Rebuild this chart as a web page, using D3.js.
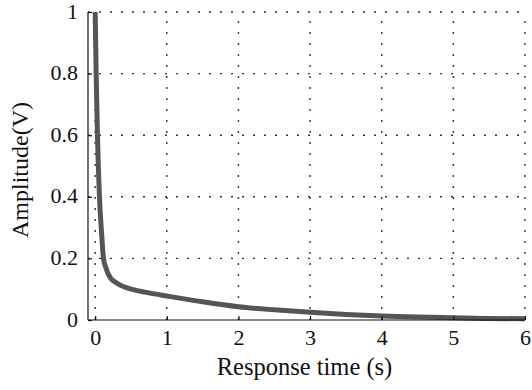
<!DOCTYPE html>
<html>
<head>
<meta charset="utf-8">
<script src="https://cdn.jsdelivr.net/npm/d3@7/dist/d3.min.js"></script>
<style>
  html, body { margin: 0; padding: 0; background: #fff; }
  svg { display: block; }
  text { font-family: "Liberation Serif", "DejaVu Serif", serif; fill: #111; }
</style>
</head>
<body>
<svg id="chart" width="532" height="390"></svg>
<script>
// Data
const timeS = [0, 0.014, 0.032, 0.06, 0.09, 0.116, 0.15, 0.177, 0.22, 0.3, 0.4, 0.56, 0.75, 1, 1.5, 2, 2.5, 3, 3.5, 4, 4.5, 5, 5.5, 6];
const amplitudeV = [1, 0.8, 0.6, 0.4, 0.28, 0.2, 0.17, 0.152, 0.135, 0.12, 0.108, 0.097, 0.088, 0.078, 0.059, 0.043, 0.033, 0.025, 0.018, 0.013, 0.010, 0.007, 0.005, 0.004];
const xTicks = [0, 1, 2, 3, 4, 5, 6];
const yTicks = [0, 0.2, 0.4, 0.6, 0.8, 1];
const xLabel = "Response time (s)";
const yLabel = "Amplitude(V)";

(function () {
const svg = d3.select("#chart");
const pL = 88, pR = 525, pT = 12, pB = 320;

const x = d3.scaleLinear().domain([-0.1, 6]).range([pL, pR]);
const y = d3.scaleLinear().domain([0, 1]).range([pB, pT]);

// grid
const grid = svg.append("g");
grid.selectAll("line.vg").data(xTicks).enter().append("line")
  .attr("x1", d => x(d)).attr("x2", d => x(d))
  .attr("y1", pB).attr("y2", pT)
  .attr("stroke", "#333").attr("stroke-width", 1.4)
  .attr("stroke-dasharray", "2,9");
grid.selectAll("line.hg").data(yTicks.filter(d => d > 0)).enter().append("line")
  .attr("x1", pL).attr("x2", pR)
  .attr("y1", d => y(d)).attr("y2", d => y(d))
  .attr("stroke", "#333").attr("stroke-width", 1.4)
  .attr("stroke-dasharray", "2,9");

// curve
const line = d3.line()
  .x((d, i) => x(timeS[i]))
  .y(d => y(d))
  .curve(d3.curveMonotoneX);
svg.append("path")
  .datum(amplitudeV)
  .attr("d", line)
  .attr("fill", "none")
  .attr("stroke", "#555")
  .attr("stroke-width", 5)
  .attr("stroke-linecap", "butt");

// axes
const xAxis = d3.axisBottom(x).tickValues(xTicks).tickSize(-4).tickPadding(10).tickFormat(d3.format("d"));
const yAxis = d3.axisLeft(y).tickValues(yTicks).tickSize(-4).tickPadding(10).tickFormat(d => d === 0 ? "0" : d === 1 ? "1" : d3.format(".1f")(d));

const gx = svg.append("g").attr("transform", `translate(0,${pB})`).call(xAxis);
const gy = svg.append("g").attr("transform", `translate(${pL},0)`).call(yAxis);
[gx, gy].forEach(g => {
  g.select(".domain").attr("stroke", "#111").attr("stroke-width", 1.2);
  g.selectAll(".tick line").attr("stroke", "#111").attr("stroke-width", 1.2);
  g.selectAll(".tick text").attr("font-family", "Liberation Serif, serif").attr("font-size", 22).attr("fill", "#111");
});
gx.select(".domain").attr("d", `M${pL},0H${pR}`);
gy.select(".domain").attr("d", `M0,${pB}V${pT}`);
gx.selectAll(".tick text").attr("dy", "0.78em").attr("y", 8);
gy.selectAll(".tick text").attr("x", -10).attr("dy", "0.28em");

// labels
svg.append("text")
  .attr("x", (pL + pR) / 2 - 2).attr("y", 375)
  .attr("text-anchor", "middle").attr("font-size", 24.5)
  .text(xLabel);
svg.append("text")
  .attr("transform", `translate(28,${(pT + pB) / 2 + 4}) rotate(-90)`)
  .attr("text-anchor", "middle").attr("font-size", 24)
  .text(yLabel);
})();
</script>
</body>
</html>
